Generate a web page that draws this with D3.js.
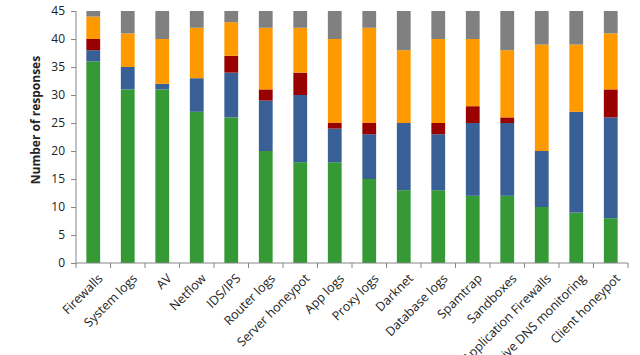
<!DOCTYPE html>
<html><head><meta charset="utf-8">
<script src="https://cdn.jsdelivr.net/npm/d3@7"></script>
<style>body{margin:0;background:#fff}svg{display:block}text{font-family:"Open Sans","DejaVu Sans",sans-serif}</style>
</head><body><svg id="c" width="640" height="355"></svg>
<script>
const categories=["Firewalls","System logs","AV","Netflow","IDS/IPS","Router logs","Server honeypot","App logs","Proxy logs","Darknet","Database logs","Spamtrap","Sandboxes","Application Firewalls","Passive DNS monitoring","Client honeypot"];
const green=[36,31,31,27,26,20,18,18,15,13,13,12,12,10,9,8];
const blue=[2,4,1,6,8,9,12,6,8,12,10,13,13,10,18,18];
const red=[2,0,0,0,3,2,4,1,2,0,2,3,1,0,0,5];
const orange=[4,6,8,9,6,11,8,15,17,13,15,12,12,19,12,10];
const gray=[1,4,5,3,2,3,3,5,3,7,5,5,7,6,6,4];
const yTicks=[0,5,10,15,20,25,30,35,40,45];
const seriesNames=["green","blue","red","orange","gray"];
const seriesColors=["#359a35","#386096","#990000","#ff9900","#808080"];
const seriesVals=[green,blue,red,orange,gray];

const svg=d3.select("#c");
const x=d3.scaleBand().domain(categories).range([76,628]).paddingInner(0.6).paddingOuter(0.3);
const y=d3.scaleLinear().domain([0,45]).range([263,11]);
const rows=categories.map((c,i)=>{const r={cat:c};seriesNames.forEach((s,j)=>r[s]=seriesVals[j][i]);return r;});
const stack=d3.stack().keys(seriesNames)(rows);
svg.append("g").selectAll("g").data(stack).join("g").attr("fill",(d,i)=>seriesColors[i])
 .selectAll("rect").data(d=>d).join("rect")
 .attr("x",d=>x(d.data.cat)).attr("width",x.bandwidth())
 .attr("y",d=>y(d[1])).attr("height",d=>y(d[0])-y(d[1]));

const ya=svg.append("g").attr("transform","translate(76,0)").call(d3.axisLeft(y).tickValues(yTicks).tickSize(5).tickPadding(6));
ya.selectAll("text").attr("font-size",12).attr("fill","#222");
ya.selectAll("line,path").attr("stroke","#868686");
ya.select("path").attr("d","M0,263V11");

const xa=svg.append("g").attr("transform","translate(0,263)");
xa.append("line").attr("x1",76).attr("x2",628).attr("stroke","#868686");
xa.selectAll("line.t").data(d3.range(17)).join("line").attr("class","t")
 .attr("x1",i=>76+i*(552/16)).attr("x2",i=>76+i*(552/16)).attr("y1",0).attr("y2",5).attr("stroke","#868686");
xa.selectAll("text").data(categories).join("text")
 .attr("transform",d=>`translate(${x(d)+x.bandwidth()/2+4},${10}) rotate(-45)`)
 .attr("text-anchor","end").attr("dy","0.7em").attr("font-size",12.5).attr("fill","#222").text(d=>d);

svg.append("text").attr("transform","translate(40,120) rotate(-90)").attr("text-anchor","middle")
 .attr("font-size",12).attr("font-weight","bold").attr("fill","#222").text("Number of responses");
</script></body></html>
